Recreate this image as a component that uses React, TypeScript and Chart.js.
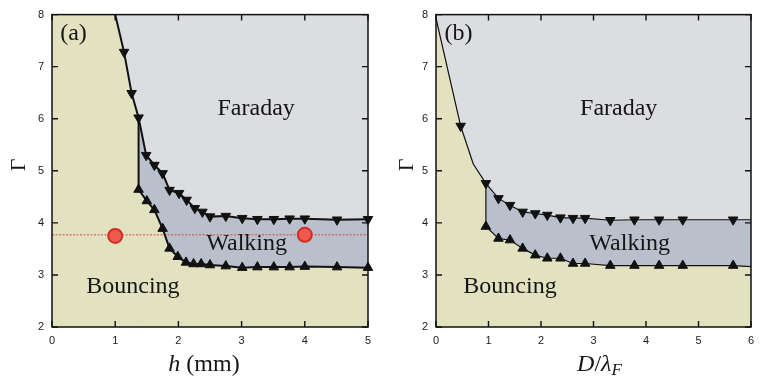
import React, { useEffect, useRef } from "react";
import { Chart, registerables } from "chart.js";
Chart.register(...registerables);

// ---------------- data ----------------
const yTickValues = [2, 3, 4, 5, 6, 7, 8];
const aXTickValues = [0, 1, 2, 3, 4, 5];
const bXTickValues = [0, 1, 2, 3, 4, 5, 6];

// panel (a): h (mm) vs Gamma
const aUpperH = [1.14, 1.26, 1.37, 1.49, 1.62, 1.75, 1.86, 2.01, 2.13, 2.26, 2.38, 2.5, 2.75, 3.01, 3.25, 3.51, 3.76, 4.0, 4.51, 5.0];
const aUpperG = [7.28, 6.49, 6.02, 5.3, 5.11, 4.95, 4.63, 4.57, 4.44, 4.28, 4.21, 4.12, 4.13, 4.09, 4.07, 4.07, 4.08, 4.08, 4.06, 4.07];
const aLowerH = [1.37, 1.5, 1.62, 1.75, 1.86, 1.99, 2.12, 2.24, 2.36, 2.5, 2.75, 3.01, 3.25, 3.51, 3.76, 4.0, 4.51, 5.0];
const aLowerG = [4.64, 4.42, 4.25, 3.89, 3.51, 3.35, 3.24, 3.21, 3.21, 3.19, 3.17, 3.14, 3.15, 3.15, 3.15, 3.16, 3.15, 3.14];
const aUpperExtraH = [1.0];
const aUpperExtraG = [8.0];
const aLowerExtraH = [1.37];
const aLowerExtraG = [4.76];
const aRedLineG = [3.77];
const aRedH = [1.0, 4.0];
const aRedG = [3.75, 3.77];

// panel (b): D/lambda_F vs Gamma
const bUpperD = [0.47, 0.95, 1.19, 1.41, 1.65, 1.89, 2.12, 2.37, 2.61, 2.84, 3.32, 3.78, 4.25, 4.7, 5.66];
const bUpperG = [5.86, 4.76, 4.47, 4.34, 4.21, 4.18, 4.15, 4.1, 4.09, 4.09, 4.05, 4.06, 4.06, 4.06, 4.06];
const bLowerD = [0.95, 1.19, 1.41, 1.65, 1.89, 2.12, 2.37, 2.61, 2.84, 3.32, 3.78, 4.25, 4.7, 5.66];
const bLowerG = [3.93, 3.7, 3.67, 3.51, 3.38, 3.32, 3.32, 3.22, 3.22, 3.18, 3.18, 3.18, 3.18, 3.18];
const bUpperExtraD = [0.0, 0.71, 6.0];
const bUpperExtraG = [7.93, 5.13, 4.06];
const bLowerExtraD = [6.0];
const bLowerExtraG = [3.16];

const regionLabels = ["Faraday", "Walking", "Bouncing"];
const panelLetters = ["(a)", "(b)"];

// ---------------- style ----------------
const BEIGE = "#e3e2c0";
const FARADAY = "#dcdde1";
const WALKING = "#b9c0cc";
const INK = "#111111";
const SERIF = '"Liberation Serif", "Times New Roman", serif';
const SANS = '"Liberation Sans", Arial, sans-serif';

type Pt = { x: number; y: number };
const zip = (xs: number[], ys: number[]): Pt[] => xs.map((x, i) => ({ x, y: ys[i] }));
const byX = (p: Pt, q: Pt) => p.x - q.x || q.y - p.y;

type Part = { t: string; font: string; dy?: number };

function drawRich(ctx: CanvasRenderingContext2D, parts: Part[], cx: number, baseline: number) {
  const widths = parts.map((p) => {
    ctx.font = p.font;
    return ctx.measureText(p.t).width;
  });
  const total = widths.reduce((s, w) => s + w, 0);
  let x = cx - total / 2;
  ctx.textAlign = "left";
  ctx.textBaseline = "alphabetic";
  parts.forEach((p, i) => {
    ctx.font = p.font;
    ctx.fillText(p.t, x, baseline + (p.dy || 0));
    x += widths[i];
  });
}

type Spec = {
  key: string;
  xMax: number;
  xTicks: number[];
  upper: Pt[];
  lower: Pt[];
  upperExtra: Pt[];
  lowerExtra: Pt[];
  redLineY?: number;
  redDots?: Pt[];
  yAxisWidth: number;
  lineWidth: number;
  markerR: number;
  letter: string;
  letterPos: Pt;
  labelPos: Pt[];
  xTitle: Part[];
  xTitleDx: number;
  gammaX: number;
};

function buildConfig(spec: Spec): any {
  const upperLine = [...spec.upperExtra, ...spec.upper].sort(byX);
  const vx = spec.lower[0].x;
  const junction = upperLine.find((p) => Math.abs(p.x - vx) < 1e-9) || spec.upper[0];
  const lowerLine = [junction, ...spec.lowerExtra, ...spec.lower].sort(byX);
  const walkingTop = upperLine.filter((p) => p.x >= vx - 1e-9);

  const base = {
    pointRadius: 0,
    tension: 0,
  };
  const datasets: any[] = [
    { ...base, data: upperLine, fill: "end", backgroundColor: FARADAY, borderColor: "transparent", borderWidth: 0, order: 20 },
    { ...base, data: walkingTop, fill: "start", backgroundColor: WALKING, borderColor: "transparent", borderWidth: 0, order: 19 },
    { ...base, data: lowerLine, fill: "start", backgroundColor: BEIGE, borderColor: "transparent", borderWidth: 0, order: 18 },
  ];
  if (spec.redLineY !== undefined) {
    datasets.push({
      ...base,
      data: [
        { x: 0, y: spec.redLineY },
        { x: spec.xMax, y: spec.redLineY },
      ],
      fill: false,
      borderColor: "#d8453c",
      borderWidth: 1,
      borderDash: [2, 1.5],
      order: 12,
    });
  }
  datasets.push(
    { ...base, data: upperLine, fill: false, borderColor: INK, borderWidth: spec.lineWidth, order: 10 },
    { ...base, data: lowerLine, fill: false, borderColor: INK, borderWidth: spec.lineWidth, order: 10 },
    {
      data: spec.upper,
      showLine: false,
      pointStyle: "triangle",
      pointRotation: 180,
      pointRadius: spec.markerR,
      pointBackgroundColor: INK,
      pointBorderColor: INK,
      pointBorderWidth: 1,
      clip: false,
      order: 5,
    },
    {
      data: spec.lower,
      showLine: false,
      pointStyle: "triangle",
      pointRotation: 0,
      pointRadius: spec.markerR,
      pointBackgroundColor: INK,
      pointBorderColor: INK,
      pointBorderWidth: 1,
      clip: false,
      order: 5,
    }
  );
  if (spec.redDots) {
    datasets.push({
      data: spec.redDots,
      showLine: false,
      pointStyle: "circle",
      pointRadius: 7,
      pointBackgroundColor: "#ee5a4e",
      pointBorderColor: "#d22d22",
      pointBorderWidth: 2,
      clip: false,
      order: 1,
    });
  }

  const plugin = {
    id: "panel" + spec.key,
    beforeDatasetsDraw(chart: any) {
      const { ctx, chartArea: a } = chart;
      ctx.save();
      ctx.fillStyle = BEIGE;
      ctx.fillRect(a.left, a.top, a.right - a.left, a.bottom - a.top);
      ctx.restore();
    },
    afterDatasetsDraw(chart: any) {
      const { ctx, chartArea: a } = chart;
      const xs = chart.scales.x;
      const ys = chart.scales.y;
      ctx.save();
      // frame
      ctx.strokeStyle = INK;
      ctx.lineWidth = 1.5;
      ctx.strokeRect(a.left, a.top, a.right - a.left, a.bottom - a.top);
      // inward ticks
      const tl = 6;
      ctx.lineWidth = 1.4;
      ctx.beginPath();
      spec.xTicks.forEach((v) => {
        const px = xs.getPixelForValue(v);
        ctx.moveTo(px, a.bottom);
        ctx.lineTo(px, a.bottom - tl);
        ctx.moveTo(px, a.top);
        ctx.lineTo(px, a.top + tl);
      });
      yTickValues.forEach((v) => {
        const py = ys.getPixelForValue(v);
        ctx.moveTo(a.left, py);
        ctx.lineTo(a.left + tl, py);
        ctx.moveTo(a.right, py);
        ctx.lineTo(a.right - tl, py);
      });
      ctx.stroke();

      // region labels
      ctx.fillStyle = "#151515";
      ctx.textAlign = "center";
      ctx.textBaseline = "alphabetic";
      ctx.font = `24px ${SERIF}`;
      regionLabels.forEach((t, i) => {
        const p = spec.labelPos[i];
        ctx.fillText(t, xs.getPixelForValue(p.x), ys.getPixelForValue(p.y));
      });
      ctx.fillText(spec.letter, xs.getPixelForValue(spec.letterPos.x), ys.getPixelForValue(spec.letterPos.y));

      // x title
      const cx = (a.left + a.right) / 2 + spec.xTitleDx;
      drawRich(ctx, spec.xTitle, cx, 371);

      // y title (Gamma), rotated
      ctx.save();
      ctx.translate(spec.gammaX, 165);
      ctx.rotate(-Math.PI / 2);
      ctx.textAlign = "center";
      ctx.textBaseline = "alphabetic";
      ctx.font = `22px ${SERIF}`;
      ctx.fillText("Γ", 0, 0);
      ctx.restore();

      ctx.restore();
    },
  };

  return {
    type: "line",
    data: { datasets },
    options: {
      animation: false,
      responsive: false,
      events: [],
      layout: { padding: { top: 14, right: 12, left: 0, bottom: 0 } },
      plugins: { legend: { display: false }, tooltip: { enabled: false }, title: { display: false } },
      scales: {
        x: {
          type: "linear",
          min: 0,
          max: spec.xMax,
          grid: { display: false, drawTicks: false },
          border: { display: false },
          ticks: { stepSize: 1, padding: 7, color: "#222", font: { family: SANS, size: 11 } },
          afterFit: (s: any) => {
            s.height = 56;
          },
        },
        y: {
          type: "linear",
          min: 2,
          max: 8,
          grid: { display: false, drawTicks: false },
          border: { display: false },
          ticks: { stepSize: 1, padding: 8, color: "#222", font: { family: SANS, size: 11 } },
          afterFit: (s: any) => {
            s.width = spec.yAxisWidth;
          },
        },
      },
    },
    plugins: [plugin],
  };
}

const specA: Spec = {
  key: "a",
  xMax: 5,
  xTicks: aXTickValues,
  upper: zip(aUpperH, aUpperG),
  lower: zip(aLowerH, aLowerG),
  upperExtra: zip(aUpperExtraH, aUpperExtraG),
  lowerExtra: zip(aLowerExtraH, aLowerExtraG),
  redLineY: aRedLineG[0],
  redDots: zip(aRedH, aRedG),
  yAxisWidth: 52,
  lineWidth: 2,
  markerR: 5.5,
  letter: panelLetters[0],
  letterPos: { x: 0.34, y: 7.52 },
  labelPos: [
    { x: 3.23, y: 6.07 },
    { x: 3.08, y: 3.48 },
    { x: 1.28, y: 2.66 },
  ],
  xTitle: [
    { t: "h", font: `italic 24px ${SERIF}` },
    { t: " (mm)", font: `24px ${SERIF}` },
  ],
  xTitleDx: -6,
  gammaX: 25,
};

const specB: Spec = {
  key: "b",
  xMax: 6,
  xTicks: bXTickValues,
  upper: zip(bUpperD, bUpperG),
  lower: zip(bLowerD, bLowerG),
  upperExtra: zip(bUpperExtraD, bUpperExtraG),
  lowerExtra: zip(bLowerExtraD, bLowerExtraG),
  yAxisWidth: 56,
  lineWidth: 1.2,
  markerR: 5.5,
  letter: panelLetters[1],
  letterPos: { x: 0.43, y: 7.52 },
  labelPos: [
    { x: 3.48, y: 6.07 },
    { x: 3.69, y: 3.48 },
    { x: 1.41, y: 2.66 },
  ],
  xTitle: [
    { t: "D", font: `italic 24px ${SERIF}` },
    { t: "/", font: `24px ${SERIF}` },
    { t: "λ", font: `italic 24px ${SERIF}` },
    { t: "F", font: `italic 17px ${SERIF}`, dy: 4 },
  ],
  xTitleDx: 6,
  gammaX: 33,
};

function Panel({ spec, left, width }: { spec: Spec; left: number; width: number }) {
  const ref = useRef<HTMLCanvasElement | null>(null);
  useEffect(() => {
    if (!ref.current) return;
    const chart = new Chart(ref.current, buildConfig(spec));
    return () => chart.destroy();
  }, [spec]);
  return (
    <canvas
      ref={ref}
      width={width}
      height={383}
      style={{ position: "absolute", left, top: 0, width, height: 383 }}
    />
  );
}

export default function App() {
  useEffect(() => {
    document.body.style.margin = "0";
    document.body.style.background = "#ffffff";
  }, []);
  return (
    <div style={{ position: "relative", width: 763, height: 383, background: "#fff" }}>
      <Panel spec={specA} left={0} width={380} />
      <Panel spec={specB} left={380} width={383} />
    </div>
  );
}
